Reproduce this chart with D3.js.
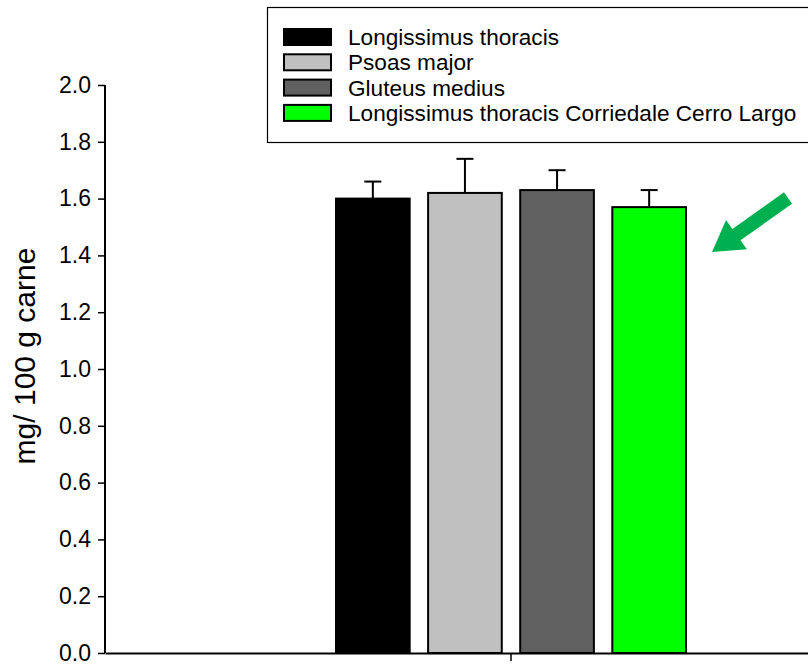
<!DOCTYPE html>
<html>
<head>
<meta charset="utf-8">
<script src="https://cdn.jsdelivr.net/npm/d3@7"></script>
<style>
  body { margin: 0; background: #fff; }
  svg { display: block; font-family: Arial, "Liberation Sans", sans-serif; }
</style>
</head>
<body>
<script>
const w = 808
const h = 666

// data
const muscles = ['Longissimus thoracis', 'Psoas major', 'Gluteus medius', 'Longissimus thoracis Corriedale Cerro Largo']
const means = [1.60, 1.62, 1.63, 1.57]
const errors = [0.06, 0.12, 0.07, 0.06]
const fills = ['#000000', '#c0c0c0', '#606060', '#00ff00']
const yTicks = [0, 0.2, 0.4, 0.6, 0.8, 1.0, 1.2, 1.4, 1.6, 1.8, 2.0]

const plotLeft = 105
const plotRight = 917
const plotTop = 85
const plotBottom = 653

const svg = d3.select('body').append('svg')
    .attr('width', w)
    .attr('height', h)

const yScale = d3.scaleLinear()
    .domain([0, 2.0])
    .range([plotBottom, plotTop])

// single group on x, bars laid out inside it
const groupScale = d3.scaleBand()
    .domain(['g'])
    .range([plotLeft, plotRight])

const center = groupScale('g') + groupScale.bandwidth() / 2

const xScale = d3.scaleBand()
    .domain(muscles)
    .range([center - 175, center + 175])
    .paddingInner(0.2)

// bars
svg.selectAll('rect.bar')
    .data(muscles)
    .enter()
    .append('rect')
    .attr('class', 'bar')
    .attr('x', d => xScale(d))
    .attr('y', (d, i) => yScale(means[i]))
    .attr('width', xScale.bandwidth())
    .attr('height', (d, i) => yScale(0) - yScale(means[i]))
    .attr('fill', (d, i) => fills[i])
    .attr('stroke', '#000')
    .attr('stroke-width', 2)

// error bars (upper only)
const errG = svg.append('g')
    .attr('stroke', '#000')
    .attr('stroke-width', 2)

muscles.forEach(function (d, i) {
    const cx = xScale(d) + xScale.bandwidth() / 2
    errG.append('line')
        .attr('x1', cx).attr('x2', cx)
        .attr('y1', yScale(means[i]))
        .attr('y2', yScale(means[i] + errors[i]))
    errG.append('line')
        .attr('x1', cx - 8.5).attr('x2', cx + 8.5)
        .attr('y1', yScale(means[i] + errors[i]))
        .attr('y2', yScale(means[i] + errors[i]))
})

// y axis
const yAxis = svg.append('g')
    .attr('transform', `translate(${plotLeft},0)`)
    .call(d3.axisLeft(yScale)
        .tickValues(yTicks)
        .tickFormat(d3.format('.1f'))
        .tickSize(7)
        .tickPadding(7))

yAxis.select('.domain')
    .attr('d', `M0,${plotTop}H0V${plotBottom}`)
    .attr('stroke-width', 2)
yAxis.selectAll('.tick line').attr('stroke-width', 1.5)
yAxis.selectAll('.tick text')
    .attr('font-size', 23)
    .attr('font-family', 'Arial, "Liberation Sans", sans-serif')
    .attr('fill', '#000')

// x axis
const xAxis = svg.append('g')
    .attr('transform', `translate(0,${plotBottom})`)
    .call(d3.axisBottom(groupScale)
        .tickFormat('')
        .tickSizeInner(8)
        .tickSizeOuter(0))

xAxis.select('.domain').attr('stroke-width', 2)
xAxis.selectAll('.tick line').attr('stroke-width', 1.5)

// y label
svg.append('text')
    .attr('transform', `translate(35,356) rotate(-90)`)
    .attr('text-anchor', 'middle')
    .attr('font-size', 30)
    .attr('fill', '#000')
    .text('mg/ 100 g carne')

// legend
const legend = svg.append('g')

legend.append('rect')
    .attr('x', 267.5)
    .attr('y', 7.5)
    .attr('width', 600)
    .attr('height', 135)
    .attr('fill', '#fff')
    .attr('stroke', '#000')
    .attr('stroke-width', 1.2)

const rows = legend.selectAll('g.row')
    .data(muscles)
    .enter()
    .append('g')
    .attr('class', 'row')
    .attr('transform', (d, i) => `translate(284,${37 + i * 25.3})`)

rows.append('rect')
    .attr('x', 0)
    .attr('y', -8)
    .attr('width', 47)
    .attr('height', 16)
    .attr('fill', (d, i) => fills[i])
    .attr('stroke', '#000')
    .attr('stroke-width', 2)

rows.append('text')
    .attr('x', 64)
    .attr('y', 0)
    .attr('dy', '0.35em')
    .attr('font-size', 22.6)
    .attr('fill', '#000')
    .text(d => d)

// green arrow pointing at the last bar
const tail = [788, 198]
const tip = [712, 252]
const ang = Math.atan2(tip[1] - tail[1], tip[0] - tail[0])
const len = Math.hypot(tip[0] - tail[0], tip[1] - tail[1])
const shaft = 7
const headLen = 30
const headHalf = 18

const arrowPts = [
    [0, -shaft], [len - headLen, -shaft], [len - headLen, -headHalf],
    [len, 0], [len - headLen, headHalf], [len - headLen, shaft], [0, shaft]
]

svg.append('path')
    .attr('d', d3.line()(arrowPts) + 'Z')
    .attr('transform', `translate(${tail[0]},${tail[1]}) rotate(${ang * 180 / Math.PI})`)
    .attr('fill', '#00b050')
</script>
</body>
</html>
